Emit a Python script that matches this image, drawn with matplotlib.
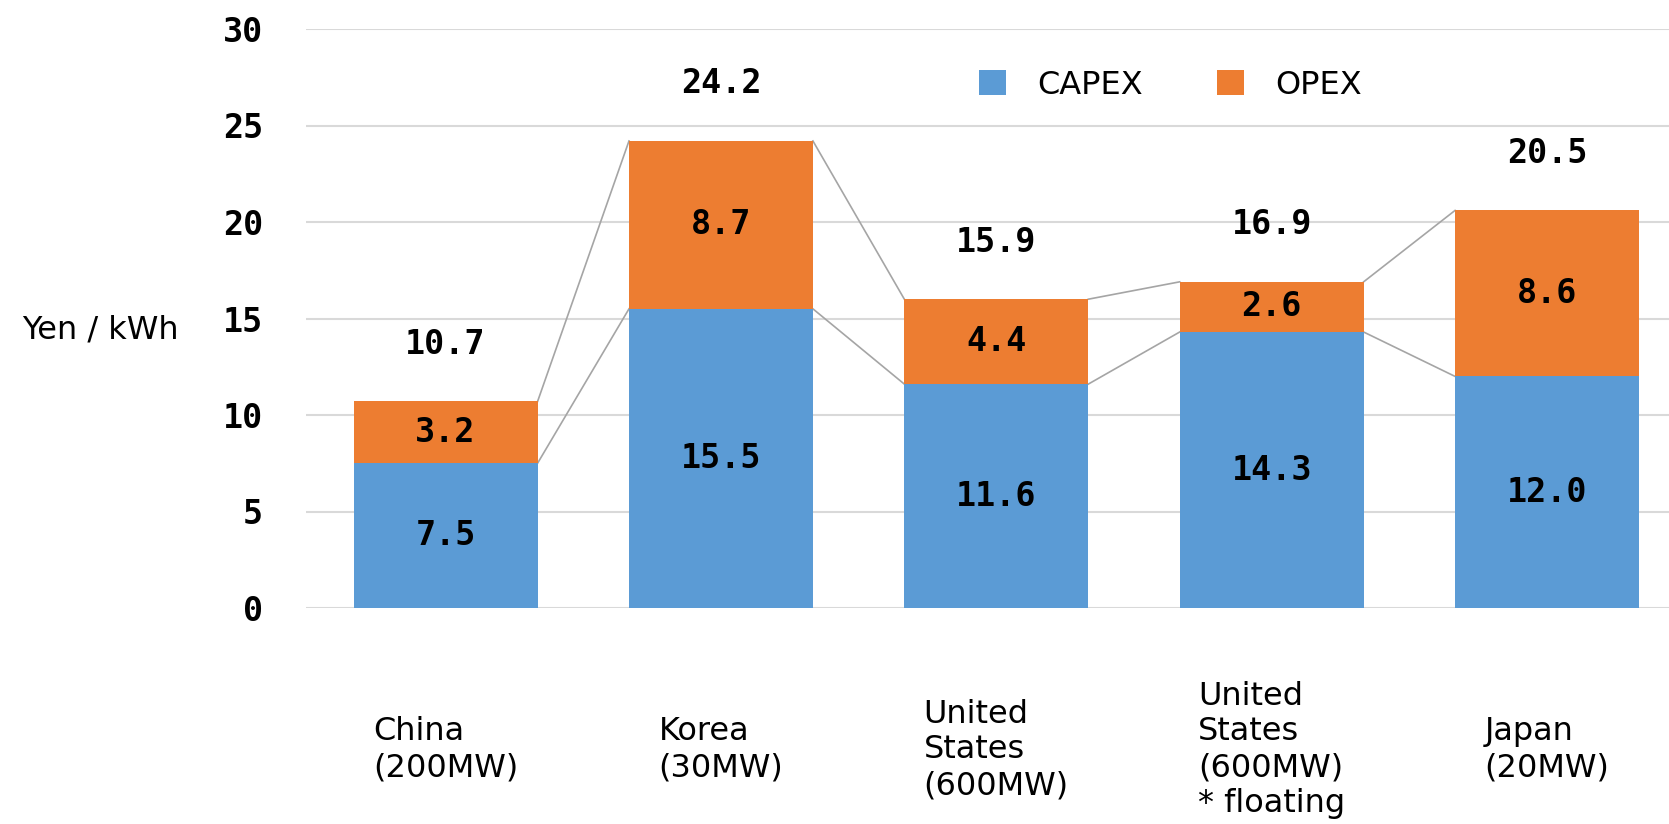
import matplotlib
matplotlib.use("Agg")
import matplotlib.pyplot as plt
import matplotlib.transforms as mtransforms
from matplotlib.patches import Patch

categories = ["China\n(200MW)", "Korea\n(30MW)", "United\nStates\n(600MW)",
              "United\nStates\n(600MW)\n* floating", "Japan\n(20MW)"]
capex = [7.5, 15.5, 11.6, 14.3, 12.0]
opex = [3.2, 8.7, 4.4, 2.6, 8.6]
totals = [10.7, 24.2, 15.9, 16.9, 20.5]
yticks = [0, 5, 10, 15, 20, 25, 30]

C_CAPEX = "#5B9BD5"
C_OPEX = "#ED7D31"
GRID = "#D9D9D9"
SERIES_LINE = "#A5A5A5"

W, H = 1669, 824
fig = plt.figure(figsize=(W / 100, H / 100), dpi=100)
ax = fig.add_axes([306 / W, 1 - 608 / H, 1 - 306 / W, 579 / H])

x = list(range(len(categories)))
bw = 0.668
ax.bar(x, capex, width=bw, color=C_CAPEX, zorder=3)
ax.bar(x, opex, width=bw, bottom=capex, color=C_OPEX, zorder=3)

# series lines
tops = [c + o for c, o in zip(capex, opex)]
for i in range(len(x) - 1):
    xr = x[i] + bw / 2
    xl = x[i + 1] - bw / 2
    ax.plot([xr, xl], [capex[i], capex[i + 1]], color=SERIES_LINE, lw=1.2, zorder=2)
    ax.plot([xr, xl], [tops[i], tops[i + 1]], color=SERIES_LINE, lw=1.2, zorder=2)

num_font = dict(family="DejaVu Sans Mono", fontweight="bold", fontsize=24)
for i in x:
    ax.text(x[i], capex[i] / 2, f"{capex[i]:.1f}", ha="center", va="center", zorder=4, **num_font)
    ax.text(x[i], capex[i] + opex[i] / 2, f"{opex[i]:.1f}", ha="center", va="center", zorder=4, **num_font)
    ax.annotate(f"{totals[i]:.1f}", (x[i], tops[i]), xytext=(0, 41), textcoords="offset points",
                ha="center", va="center", **num_font)

ax.set_xlim(-0.507, 4.443)
ax.set_ylim(0, 30)
ax.set_yticks(yticks)
ax.set_yticklabels([str(t) for t in yticks], **num_font)
ax.tick_params(axis="y", length=0, pad=31)
ax.set_xticks([])
for s in ax.spines.values():
    s.set_visible(False)
ax.yaxis.grid(True, color=GRID, lw=1.5, zorder=0)
ax.set_axisbelow(True)

trans = mtransforms.blended_transform_factory(ax.transData, ax.transAxes)
for i, lab in enumerate(categories):
    ax.text(x[i], -0.245, lab, transform=trans, ha="center", va="center",
            multialignment="left", fontsize=23, linespacing=1.2, family="DejaVu Sans")

fig.text(100 / W, 1 - 330 / H, "Yen / kWh", ha="center", va="center", fontsize=23, family="DejaVu Sans")

handles = [Patch(facecolor=C_CAPEX, label="CAPEX"), Patch(facecolor=C_OPEX, label="OPEX")]
fig.legend(handles=handles, loc="center left", bbox_to_anchor=(979 / W, 1 - 85 / H),
           ncol=2, frameon=False, fontsize=23, handlelength=0.85, handleheight=0.85,
           handletextpad=0.98, columnspacing=2.32, borderpad=0, borderaxespad=0)

fig.savefig("out.png", dpi=100)
